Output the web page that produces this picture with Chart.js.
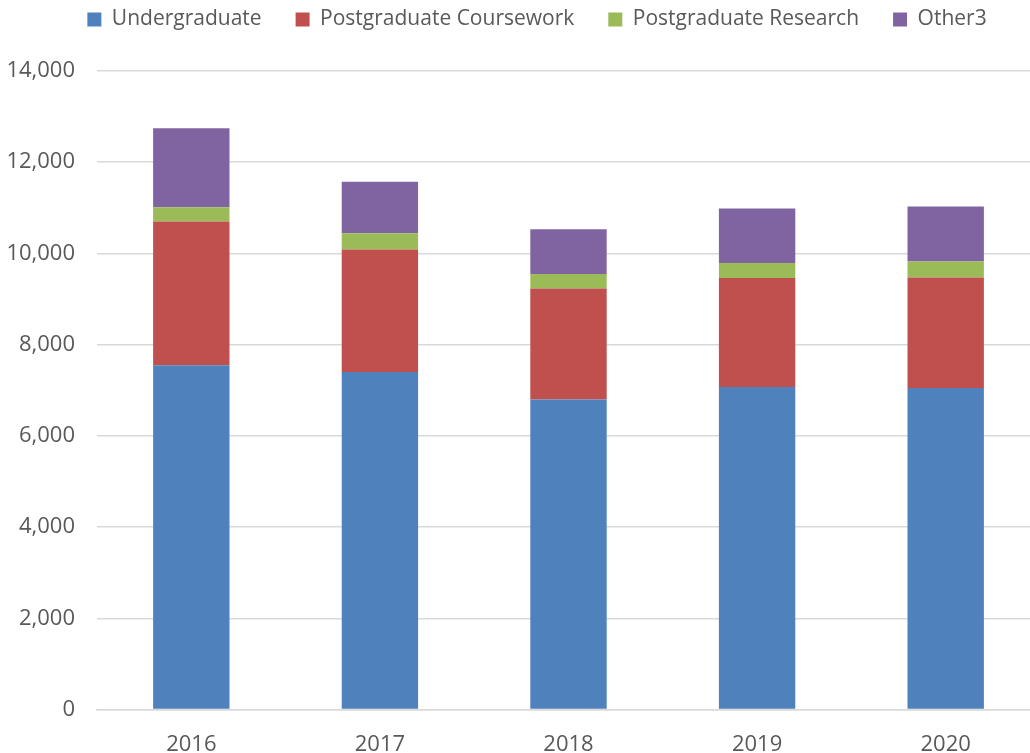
<!DOCTYPE html>
<html>
<head>
<meta charset="utf-8">
<script src="https://cdn.jsdelivr.net/npm/chart.js@4"></script>
<style>
  html, body { margin: 0; padding: 0; background: #fff; overflow: hidden; }
  #wrap { width: 1042px; height: 753px; }
</style>
</head>
<body>
<div id="wrap"><canvas id="chart" width="1042" height="753"></canvas></div>
<script>
const years = ["2016", "2017", "2018", "2019", "2020"];
const undergraduate = [7550, 7400, 6800, 7070, 7050];
const pgCoursework = [3150, 2685, 2430, 2390, 2425];
const pgResearch = [315, 360, 320, 330, 350];
const other3 = [1730, 1125, 980, 1195, 1205];

// extra space under the legend, and nudge it right a bit
const legendGap = {
    id: "legendGap",
    beforeInit(chart) {
        const fit = chart.legend.fit;
        chart.legend.fit = function () {
            fit.bind(chart.legend)();
            this.height += 31;
        };
    },
    afterLayout(chart) {
        chart.legend.left += 14;
        chart.legend.right += 14;
    },
};

const ctx = document.getElementById("chart").getContext("2d");
new Chart(ctx, {
    type: "bar",
    data: {
        labels: years,
        datasets: [
            { label: "Undergraduate", data: undergraduate, backgroundColor: "#4f81bd" },
            { label: "Postgraduate Coursework", data: pgCoursework, backgroundColor: "#c0504d" },
            { label: "Postgraduate Research", data: pgResearch, backgroundColor: "#9bbb59" },
            { label: "Other3", data: other3, backgroundColor: "#8064a2" },
        ],
    },
    plugins: [legendGap],
    options: {
        responsive: false,
        animation: false,
        layout: { padding: { left: 6, right: 2, top: -25, bottom: -19 } },
        datasets: { bar: { categoryPercentage: 0.405, barPercentage: 1 } },
        scales: {
            x: {
                stacked: true,
                grid: { display: false },
                border: { color: "#d9d9d9", width: 1.5 },
                ticks: { color: "#595959", font: { family: "Open Sans", size: 22 }, padding: 14 },
            },
            y: {
                stacked: true,
                min: 0,
                max: 14000,
                border: { display: false },
                grid: { color: "#d9d9d9", lineWidth: 1.5, drawTicks: false },
                afterFit: function (scale) {
                    scale.width = 91;
                },
                ticks: {
                    stepSize: 2000,
                    padding: 22,
                    color: "#595959",
                    font: { family: "Open Sans", size: 22 },
                    callback: function (value) {
                        return value.toLocaleString("en-US");
                    },
                },
            },
        },
        plugins: {
            legend: {
                position: "top",
                labels: {
                    boxWidth: 14,
                    boxHeight: 14,
                    padding: 34,
                    color: "#595959",
                    font: { family: "Open Sans", size: 21 },
                },
            },
            tooltip: { enabled: false },
        },
    },
});
</script>
</body>
</html>
